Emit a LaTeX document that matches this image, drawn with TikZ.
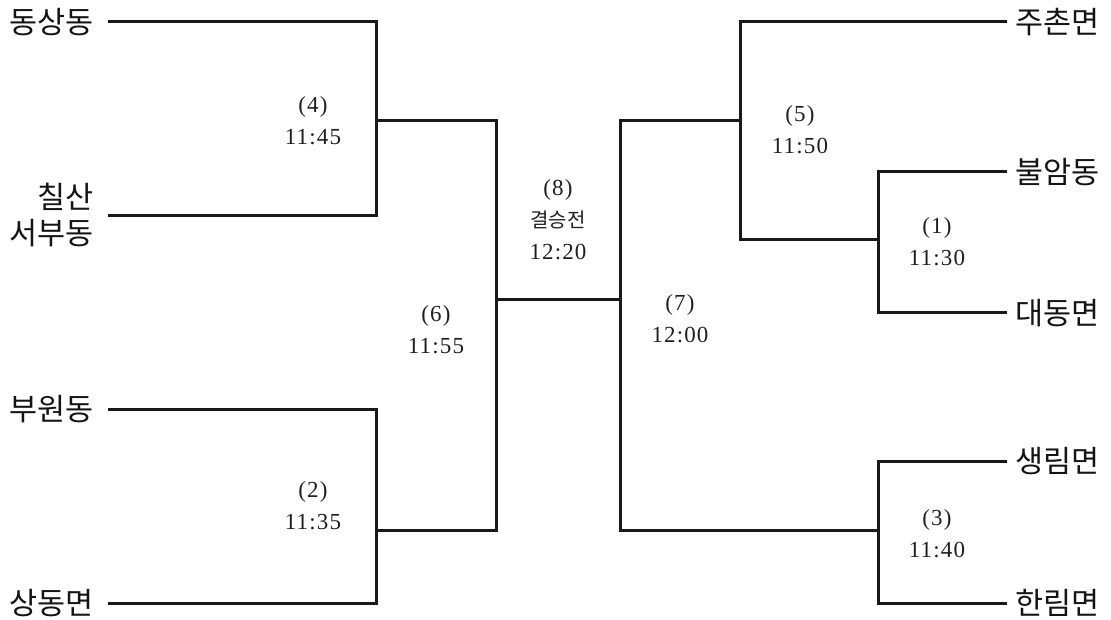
\documentclass[tikz,border=0pt]{standalone}
\usepackage{fontspec}
\setmainfont{Liberation Serif}
\newfontfamily\kr{Noto Sans CJK KR}
\begin{document}
\begin{tikzpicture}[x=1pt,y=-1pt,
  wire/.style={line width=3pt, color=black!90, line cap=rect},
  team/.style={font=\kr\fontsize{30.5}{36}\selectfont, inner sep=0pt, text=black!92},
  lteam/.style={team, anchor=east, align=right},
  rteam/.style={team, anchor=west, align=left},
  game/.style={font=\fontsize{23}{32}\addfontfeature{LetterSpace=5}\selectfont, align=center, inner sep=0pt, text=black!88}]
\useasboundingbox (0,0) rectangle (1111,620);
% team names
\node[lteam] (t1) at (94,22) {동상동};
\node[lteam] (t2) at (94,215) {칠산\\서부동};
\node[lteam] (t3) at (94,409) {부원동};
\node[lteam] (t4) at (94,603) {상동면};
\node[rteam] (t5) at (1015,22) {주촌면};
\node[rteam] (t6) at (1015,172) {불암동};
\node[rteam] (t7) at (1015,313) {대동면};
\node[rteam] (t8) at (1015,461) {생림면};
\node[rteam] (t9) at (1015,603) {한림면};
% coordinates
\coordinate (a1) at (109,22);  \coordinate (b1) at (376,22);
\coordinate (a2) at (109,216); \coordinate (b2) at (376,216);
\coordinate (j4) at (376,121); \coordinate (k4) at (496,121);
\coordinate (a3) at (109,409); \coordinate (b3) at (376,409);
\coordinate (a4) at (109,603); \coordinate (b4) at (376,603);
\coordinate (j2) at (376,530); \coordinate (k2) at (496,530);
\coordinate (j6) at (496,300); \coordinate (k7) at (620,300);
\coordinate (r7a) at (620,121); \coordinate (r7b) at (620,530);
\coordinate (j5) at (740,121);
\coordinate (a5) at (1005,22); \coordinate (b5) at (740,22);
\coordinate (b5b) at (740,240); \coordinate (j1) at (878,240);
\coordinate (a6) at (1005,172); \coordinate (b6) at (878,172);
\coordinate (a7) at (1005,313); \coordinate (b7) at (878,313);
\coordinate (j3) at (878,530);
\coordinate (a8) at (1005,461); \coordinate (b8) at (878,461);
\coordinate (a9) at (1005,603); \coordinate (b9) at (878,603);
% left bracket
\draw[wire] (a1) -- (b1) -- (b2) -- (a2);
\draw[wire] (j4) -- (k4);
\draw[wire] (a3) -- (b3) -- (b4) -- (a4);
\draw[wire] (j2) -- (k2);
\draw[wire] (k4) -- (k2);
\draw[wire] (j6) -- (k7);
% right bracket
\draw[wire] (r7a) -- (r7b);
\draw[wire] (r7a) -- (j5);
\draw[wire] (a5) -- (b5) -- (b5b) -- (j1);
\draw[wire] (a6) -- (b6) -- (b7) -- (a7);
\draw[wire] (r7b) -- (j3);
\draw[wire] (a8) -- (b8) -- (b9) -- (a9);
% game labels
\node[game] (g4) at (313,121) {(4)\\11:45};
\node[game] (g2) at (313,506) {(2)\\11:35};
\node[game] (g6) at (436,330) {(6)\\11:55};
\node[game] (g8) at (558,220) {(8)\\{\kr\fontsize{20}{32}\selectfont 결승전}\\12:20};
\node[game] (g7) at (680,319) {(7)\\12:00};
\node[game] (g5) at (800,130) {(5)\\11:50};
\node[game] (g1) at (937,242) {(1)\\11:30};
\node[game] (g3) at (937,534) {(3)\\11:40};
\end{tikzpicture}
\end{document}
